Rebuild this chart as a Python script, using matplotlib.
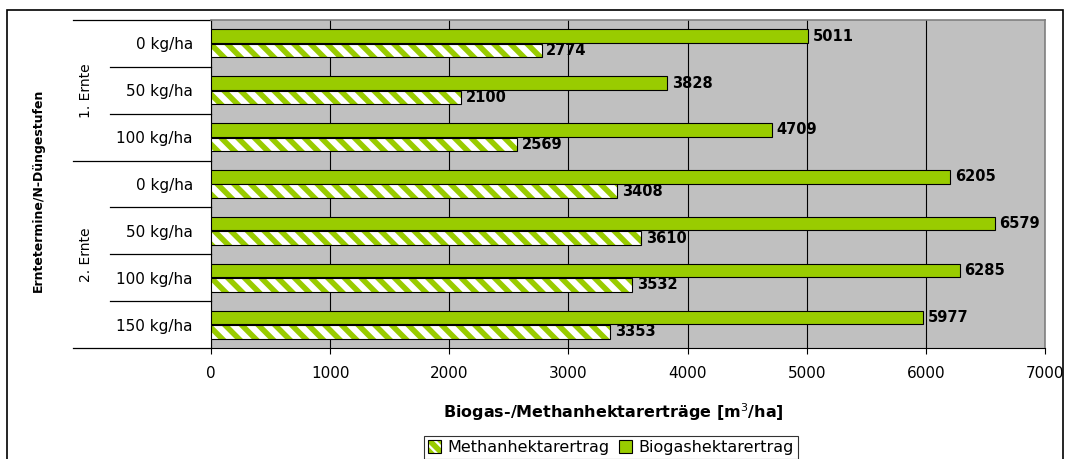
import matplotlib
matplotlib.use("Agg")
import matplotlib.pyplot as plt
import matplotlib.transforms as mtransforms
from matplotlib.patches import Rectangle, Patch
import numpy as np

plt.rcParams["font.family"] = ["DejaVu Sans"]
plt.rcParams["hatch.linewidth"] = 4.0

# data
categories = ["0 kg/ha", "50 kg/ha", "100 kg/ha", "0 kg/ha", "50 kg/ha", "100 kg/ha", "150 kg/ha"]
groups = ["1. Ernte", "2. Ernte"]
group_sizes = [3, 4]
biogas = [5011, 3828, 4709, 6205, 6579, 6285, 5977]
methan = [2774, 2100, 2569, 3408, 3610, 3532, 3353]
xticks = [0, 1000, 2000, 3000, 4000, 5000, 6000, 7000]

green = "#99CC00"
gray = "#C0C0C0"
hatch = "\\\\"

W, H = 1068, 459
fig = plt.figure(figsize=(W / 100, H / 100), dpi=100)
ax = fig.add_axes([211 / W, 1 - 348 / H, (1045 - 211) / W, (348 - 20) / H])
ax.set_facecolor(gray)

y = np.arange(len(categories))
h = 0.29
off = 0.153

ax.barh(y - off, biogas, height=h, color=green, edgecolor="black", linewidth=0.8, zorder=3)
ax.barh(y + off, methan, height=h, color="white", edgecolor=green, hatch=hatch, linewidth=0, zorder=3)
ax.barh(y + off, methan, height=h, fill=False, edgecolor="black", linewidth=0.8, zorder=4)

for yi, v in zip(y, biogas):
    ax.text(v + 40, yi - off, str(v), va="center", ha="left", fontsize=10.5, fontweight="bold", zorder=5)
for yi, v in zip(y, methan):
    ax.text(v + 40, yi + off, str(v), va="center", ha="left", fontsize=10.5, fontweight="bold", zorder=5)

ax.set_xlim(0, 7000)
ax.set_ylim(len(categories) - 0.5, -0.5)
ax.set_xticks(xticks)
ax.set_xticklabels([str(t) for t in xticks], fontsize=11)
ax.tick_params(axis="x", length=4, width=0.8, pad=9)
ax.set_yticks(y)
ax.set_yticklabels(categories, fontsize=11)
ax.tick_params(axis="y", length=0, pad=13)
ax.grid(axis="x", color="black", linewidth=0.8, zorder=1)
ax.set_axisbelow(True)
for side in ["top", "right"]:
    ax.spines[side].set_color("#808080")
    ax.spines[side].set_linewidth(1.2)
for side in ["left", "bottom"]:
    ax.spines[side].set_color("black")
    ax.spines[side].set_linewidth(0.8)

# left separators for categories and groups
trans = mtransforms.blended_transform_factory(ax.transAxes, ax.transData)
group_bounds = [-0.5]
for s in group_sizes:
    group_bounds.append(group_bounds[-1] + s)
for b in np.arange(-0.5, len(categories), 1.0):
    x0 = (73 - 211) / 834 if any(abs(b - g) < 1e-9 for g in group_bounds) else (110 - 211) / 834
    ax.plot([x0, 0], [b, b], color="black", linewidth=0.9, transform=trans, clip_on=False)
for name, a, b in zip(groups, group_bounds[:-1], group_bounds[1:]):
    ax.text((86 - 211) / 834, (a + b) / 2, name, rotation=90, ha="center", va="center",
            fontsize=10, transform=trans)

fig.text(38 / W, 1 - 190 / H, "Erntetermine/N-Düngestufen", rotation=90, ha="center", va="center",
         fontsize=9, fontweight="bold")
fig.text(613 / W, 1 - 412 / H, "Biogas-/Methanhektarerträge [m$^3$/ha]", ha="center", va="center",
         fontsize=11.5, fontweight="bold")

methan_handle = (
    Patch(facecolor="white", edgecolor=green, hatch="\\\\\\", linewidth=0),
    Patch(fill=False, edgecolor="black", linewidth=0.8),
)
biogas_handle = Patch(facecolor=green, edgecolor="black", linewidth=0.8)
leg = fig.legend([methan_handle, biogas_handle], ["Methanhektarertrag", "Biogashektarertrag"], ncol=2,
                 loc="upper center", bbox_to_anchor=(611 / W, 1 - 436 / H), frameon=True, fancybox=False,
                 edgecolor="black", fontsize=11.5, handlelength=0.8, handleheight=0.8,
                 handletextpad=0.4, columnspacing=0.6, borderpad=0.25, borderaxespad=0)
leg.get_frame().set_linewidth(0.8)

fig.add_artist(Rectangle((7 / W, -0.02), (1063 - 7) / W, 1 - 10 / H + 0.02, transform=fig.transFigure,
                         fill=False, edgecolor="black", linewidth=1.2))

fig.savefig("out.png", dpi=100)
